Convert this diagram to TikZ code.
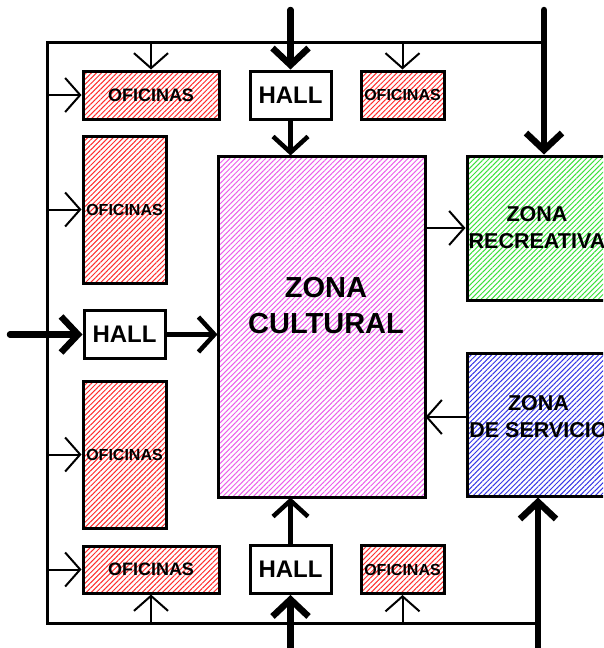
\documentclass[tikz,border=0pt]{standalone}
\usepackage{fontspec}
\setmainfont{Liberation Sans}
\usetikzlibrary{arrows.meta, patterns.meta, positioning}
\definecolor{cOfi}{RGB}{255,45,45}
\definecolor{cCult}{RGB}{235,95,235}
\definecolor{cRecr}{RGB}{60,225,60}
\definecolor{cServ}{RGB}{55,55,230}
\tikzset{
	zone/.style     ={rectangle, draw=black, line width=3pt, inner sep=0pt, align=center, font=\bfseries},
	hatch/.style    ={pattern={Lines[angle=45, distance=3.6pt, line width=1pt]}, pattern color=#1},
	ofibox/.style   ={zone, hatch=cOfi, font=\bfseries\fontsize{16}{18}\selectfont},
	hallbox/.style  ={zone, fill=white, minimum width=81pt, minimum height=48pt, font=\bfseries\fontsize{24}{26}\selectfont},
	zonetxt/.style  ={align=center, inner sep=0pt, font=\bfseries\fontsize{21.5}{27}\selectfont},
	% connectors
	frame/.style    ={line width=3pt},
	thinarr/.style  ={-{Straight Barb[length=15pt, width=34pt]}, line width=2pt},
	midarr/.style   ={-{Straight Barb[length=16pt, width=35pt]}, line width=4.5pt},
	bigarr/.style   ={-{Straight Barb[length=17pt, width=36pt]}, line width=6.5pt, line cap=round},
}
\begin{document}
\begin{tikzpicture}[x=1pt, y=-1pt]
	\clip (0,0) rectangle (603,648);
	% zones
	\node[zone, hatch=cCult, minimum width=207pt, minimum height=341pt] (cult) at (321.5,326.5) {};
	\node[zonetxt, font=\bfseries\fontsize{29}{36}\selectfont] (cultT) at ([xshift=4.5pt, yshift=21pt]cult.center) {ZONA\\CULTURAL};
	\node[zone, hatch=cRecr, minimum width=140pt, minimum height=144pt, font=\bfseries\fontsize{21.5}{27}\selectfont] (recr) at (537,228) {ZONA\\RECREATIVA};
	\node[zone, hatch=cServ, minimum width=142pt, minimum height=143pt] (serv) at (538,424.5) {};
	\node[zonetxt] (servT) at ([xshift=0.5pt, yshift=7.5pt]serv.center) {ZONA\\DE SERVICIO};
	% halls
	\node[hallbox] (hallT) at (290.5,95) {HALL};
	\node[hallbox] (hallL) at (124.5,334.5) {HALL};
	\node[hallbox] (hallB) at (290.5,569.5) {HALL};
	% offices
	\node[ofibox, minimum width=136pt, minimum height=48pt, font=\bfseries\fontsize{18}{20}\selectfont] (ofiTL) at (151,95) {OFICINAS};
	\node[ofibox, minimum width=83pt, minimum height=48pt] (ofiTR) at (402.5,95) {OFICINAS};
	\node[ofibox, minimum width=83pt, minimum height=147pt] (ofiLU) at (124.5,209.5) {OFICINAS};
	\node[ofibox, minimum width=83pt, minimum height=147pt] (ofiLD) at (124.5,454.5) {OFICINAS};
	\node[ofibox, minimum width=136pt, minimum height=47pt, font=\bfseries\fontsize{18}{20}\selectfont] (ofiBL) at (151,569.5) {OFICINAS};
	\node[ofibox, minimum width=83pt, minimum height=48pt] (ofiBR) at (402.5,569.5) {OFICINAS};
	% corridor frame
	\coordinate (fTL) at (47,42);
	\coordinate (fTR) at (544,42);
	\coordinate (fBL) at (47,623);
	\coordinate (fBR) at (538,623);
	\draw[frame] (fTR) -- (fTL) -- (fBL) -- (fBR);
	% entrances
	\coordinate (inT) at (290.5,10);
	\coordinate (inR) at (544,10);
	\coordinate (inL) at (10,334.5);
	\coordinate (inB) at (290.5,648);
	\coordinate (inBR) at (538,648);
	\draw[bigarr] (inT) -- (hallT.north);
	\draw[bigarr] (inR) -- (inR |- recr.north);
	\draw[bigarr] (inL) -- (hallL.west);
	\draw[bigarr] (inB) -- (hallB.south);
	\draw[bigarr] (inBR) -- (inBR |- serv.south);
	% halls to cultural zone
	\draw[midarr] (hallT.south) -- (hallT.south |- cult.north);
	\draw[midarr] (hallL.east) -- (hallL.east -| cult.west);
	\draw[midarr] (hallB.north) -- (hallB.north |- cult.south);
	% frame to offices
	\draw[thinarr] (fTL -| ofiTL.north) -- (ofiTL.north);
	\draw[thinarr] (fTL -| ofiTR.north) -- (ofiTR.north);
	\draw[thinarr] (fTL |- ofiTL.west) -- (ofiTL.west);
	\draw[thinarr] (fTL |- ofiLU.west) -- (ofiLU.west);
	\draw[thinarr] (fTL |- ofiLD.west) -- (ofiLD.west);
	\draw[thinarr] (fTL |- ofiBL.west) -- (ofiBL.west);
	\draw[thinarr] (fBL -| ofiBL.south) -- (ofiBL.south);
	\draw[thinarr] (fBL -| ofiBR.south) -- (ofiBR.south);
	% between zones
	\draw[thinarr] (cult.east |- recr.west) -- (recr.west);
	\draw[thinarr] ([yshift=7.5pt]serv.west) -- ([yshift=7.5pt]serv.west -| cult.east);
\end{tikzpicture}
\end{document}
